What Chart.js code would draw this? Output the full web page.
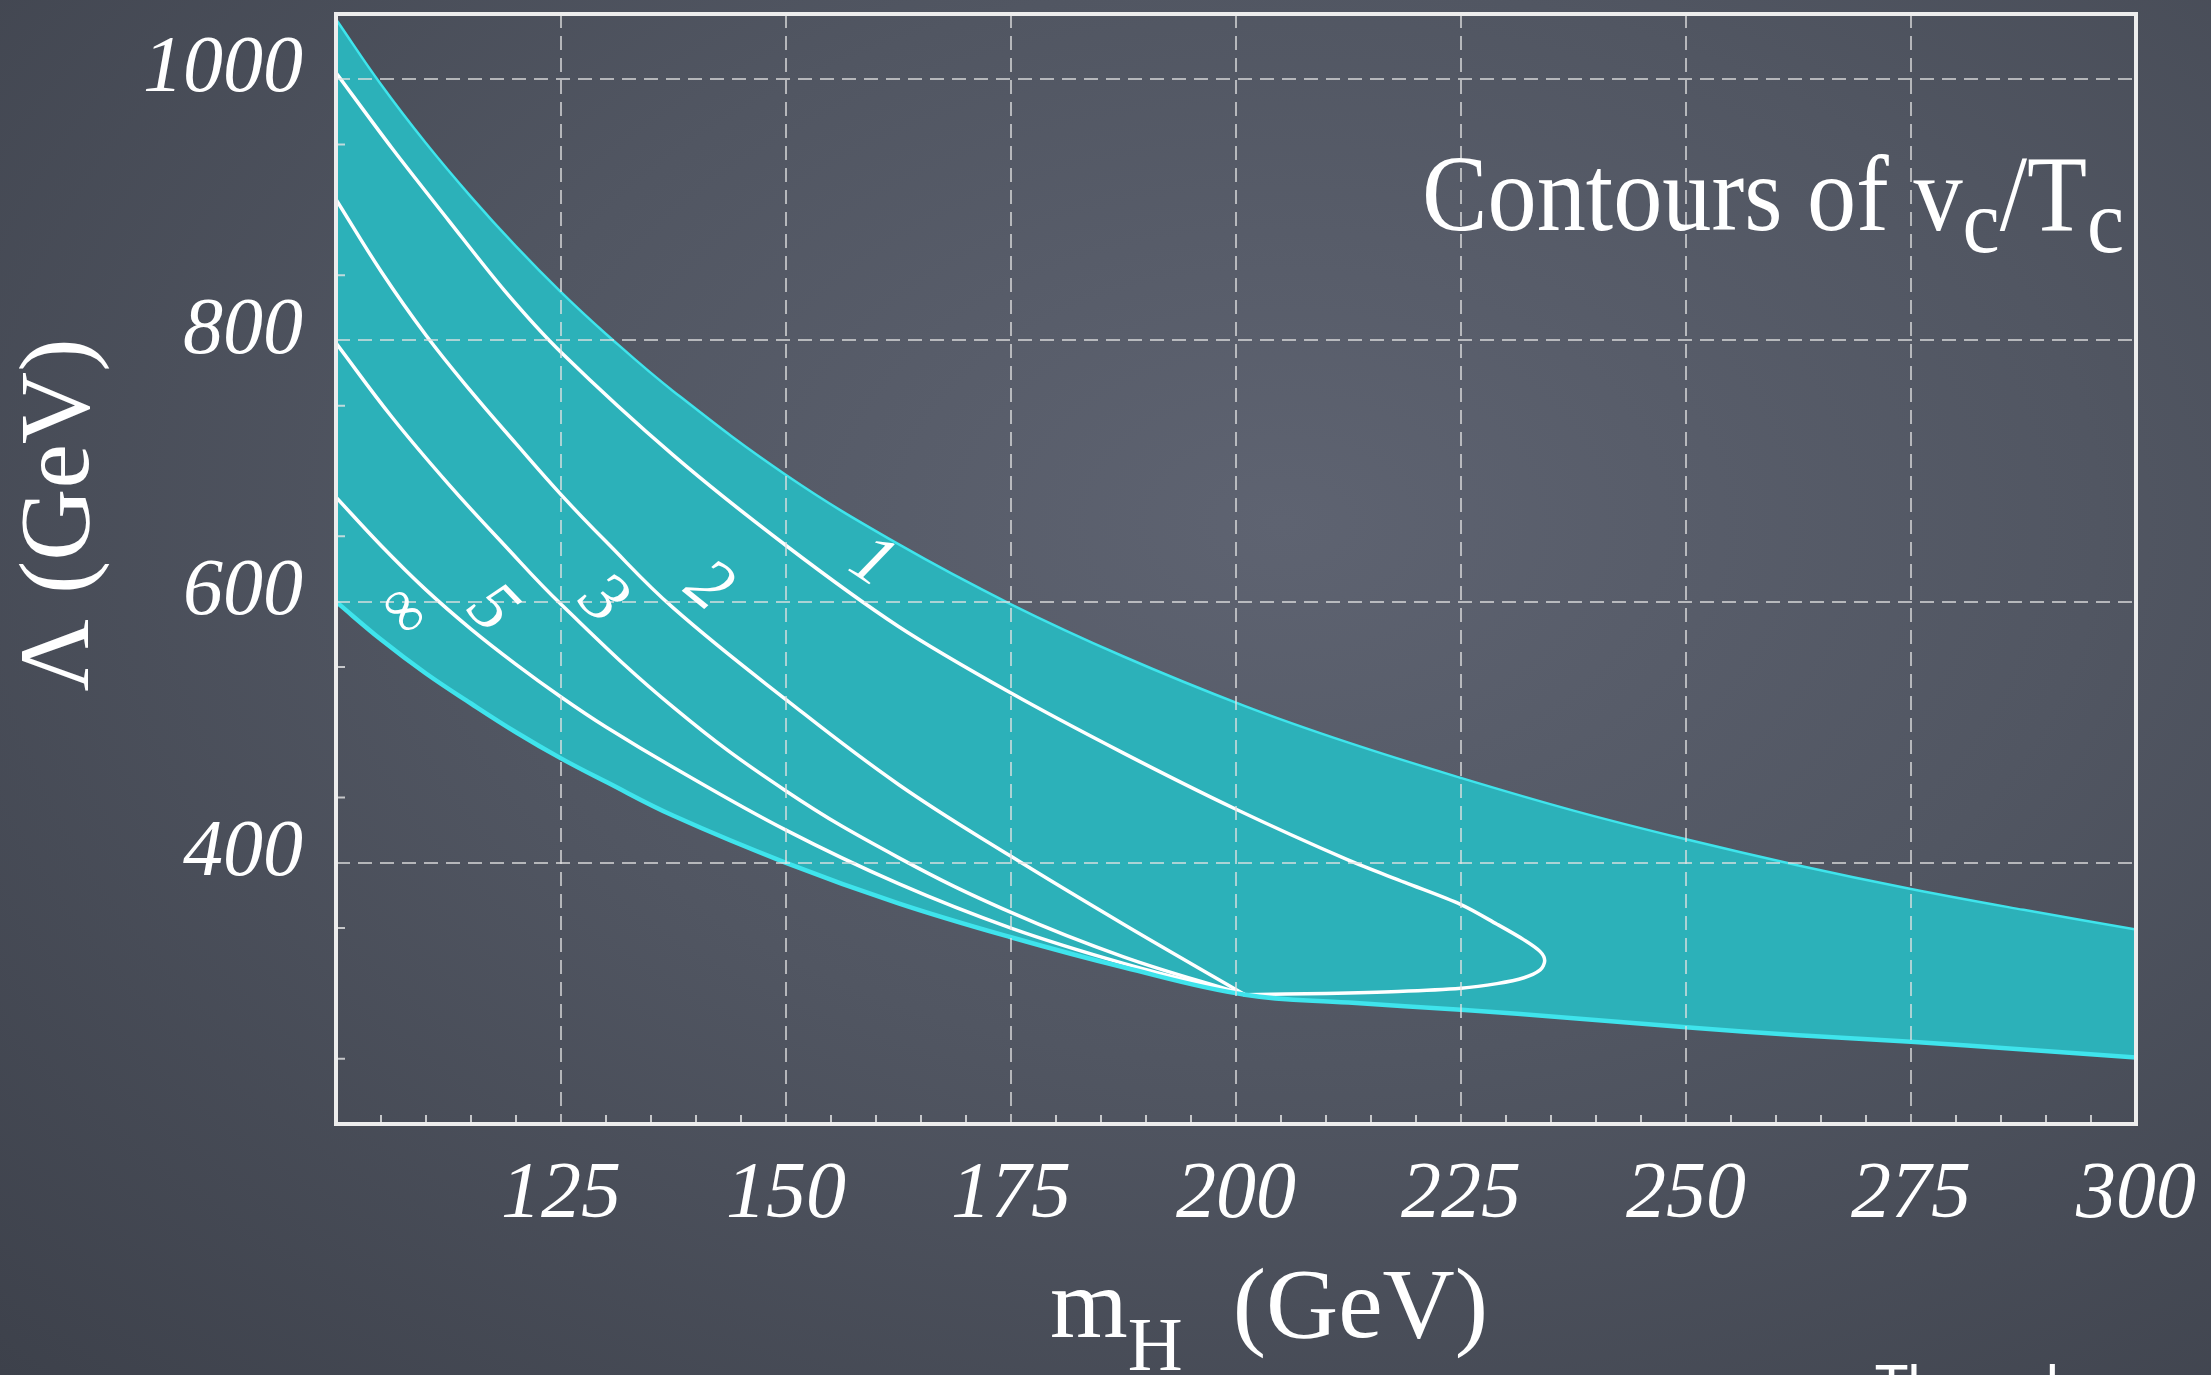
<!DOCTYPE html>
<html>
<head>
<meta charset="utf-8">
<script src="https://cdn.jsdelivr.net/npm/chart.js@4.4.1/dist/chart.umd.min.js"></script>
<style>
  html, body { margin: 0; padding: 0; width: 2211px; height: 1375px; overflow: hidden; }
  body { background: radial-gradient(ellipse at 58% 38%, #5e6371 0%, #515662 45%, #3d414b 100%); }
  canvas { display: block; }
</style>
</head>
<body>
<canvas id="contourChart" width="2211" height="1375"></canvas>
<script>
// band of allowed (m_H, Lambda), both edges on the same m_H grid
var bandX     = [100, 105, 110, 115, 120, 125, 130, 137.5, 150, 162.5, 175, 187.5, 201, 212.5, 225, 237.5, 250, 262.5, 275, 287.5, 300];
var bandUpper = [1046, 996, 951, 910, 872, 837, 805, 761, 697, 644, 598, 558, 520, 492, 465, 440, 418, 398, 380, 364, 349];
var bandLower = [600, 571, 545, 522, 500, 480, 462, 436, 400, 369, 343, 320, 299, 293, 287.5, 281, 274, 268, 263, 257, 251];
var cuspIndex = 12; // the infinity contour follows the lower edge up to here

// contours of v_c/T_c
var c5X = [100, 105, 110, 115, 120, 125, 130, 137.5, 150, 162.5, 175, 187.5, 201];
var c5Y = [680, 643, 609, 579, 552, 527, 504, 473, 425, 384, 350, 323, 299];

var c3X = [100, 106.25, 112.5, 118.75, 125, 137.5, 150, 162.5, 175, 187.5, 201];
var c3Y = [798, 741, 690, 643, 598, 519, 455, 404, 362, 328, 299];

var c2X = [100, 105, 110, 115, 120, 125, 130, 137.5, 150, 162.5, 175, 187.5, 201];
var c2Y = [908, 853, 804, 761, 721, 682, 646, 595, 525, 460, 405, 353, 299];

var c1X = [100, 106.25, 112.5, 118.75, 125, 137.5, 150, 162.5, 175, 187.5, 200, 212.5, 218.75, 225, 229, 232, 233.8, 234.3, 233.8, 232, 229, 225, 218, 210, 201];
var c1Y = [1005, 947, 892, 838, 791, 712, 643, 581, 530, 484, 441, 402, 385, 368, 353, 341, 332, 325, 318, 312, 307.5, 304, 301.5, 300, 299];

// contour labels (placed in data units)
var labelText = ['\u221E', '5', '3', '2', '1'];
var labelX = [107.4, 117.2, 129.6, 141.3, 159.5];
var labelY = [592, 594, 601, 611, 629.5];
var labelAngle = [50, 46, 43, 39, 34];

var xTicks = [125, 150, 175, 200, 225, 250, 275, 300];
var yTicks = [400, 600, 800, 1000];

function pts(xs, ys) {
    return xs.map(function (x, i) { return { x: x, y: ys[i] }; });
}

function curve(data, color, width, tension) {
    return {
        data: data,
        borderColor: color,
        borderWidth: width,
        pointRadius: 0,
        fill: false,
        tension: tension || 0.4
    };
}

// draws text pieces one after the other, used for sub-scripts
function drawRuns(c, x, y, runs, family, squeeze) {
    c.save();
    c.translate(x, y);
    c.scale(squeeze, 1);
    var cx = 0;
    runs.forEach(function (r) {
        c.font = r.size + 'px ' + family;
        c.fillText(r.t, cx, r.dy || 0);
        cx += c.measureText(r.t).width;
    });
    c.restore();
}

var serif = '"Liberation Serif", "DejaVu Serif", serif';

var decorations = {
    id: 'decorations',
    afterDraw: function (chart) {
        var c = chart.ctx, a = chart.chartArea;
        var sx = chart.scales.x, sy = chart.scales.y;
        c.save();

        // minor ticks
        c.strokeStyle = 'rgba(230,230,230,0.8)';
        c.lineWidth = 2;
        c.beginPath();
        for (var mx = 105; mx < 300; mx += 5) {
            if (mx % 25 === 0) continue;
            var px = sx.getPixelForValue(mx);
            c.moveTo(px, a.bottom); c.lineTo(px, a.bottom - 9);
        }
        for (var my = 250; my < 1050; my += 100) {
            var py = sy.getPixelForValue(my);
            c.moveTo(a.left, py); c.lineTo(a.left + 9, py);
        }
        c.stroke();

        // frame
        c.strokeStyle = '#ededed';
        c.lineWidth = 4;
        c.strokeRect(a.left, a.top, a.right - a.left, a.bottom - a.top);

        // contour labels
        c.fillStyle = '#ffffff';
        c.textAlign = 'center';
        c.textBaseline = 'middle';
        labelText.forEach(function (t, i) {
            c.save();
            c.font = (i === 0 ? '64px ' : 'italic 72px ') + serif;
            c.translate(sx.getPixelForValue(labelX[i]), sy.getPixelForValue(labelY[i]));
            c.rotate(labelAngle[i] * Math.PI / 180);
            c.fillText(t, 0, 0);
            c.restore();
        });

        // in-plot caption
        c.textAlign = 'left';
        c.textBaseline = 'alphabetic';
        drawRuns(c, 1422, 230, [
            { t: 'Contours of v', size: 108 },
            { t: 'c', size: 92, dy: 22 },
            { t: '/T', size: 108 },
            { t: 'c', size: 92, dy: 22 }
        ], serif, 0.91);

        // x axis title
        drawRuns(c, 1050, 1337, [
            { t: 'm', size: 100 },
            { t: 'H', size: 76, dy: 33 },
            { t: '  (GeV)', size: 100 }
        ], serif, 1);

        // y axis title
        c.save();
        c.translate(88, 515);
        c.rotate(-Math.PI / 2);
        c.textAlign = 'center';
        c.font = '100px ' + serif;
        c.fillText('\u039B (GeV)', 0, 0);
        c.restore();

        // slide text cut by the bottom edge
        c.font = '56px Lato, "Open Sans", sans-serif';
        c.fillText('The only consistent', 1875, 1405);

        c.restore();
    }
};

var gridStyle = { color: 'rgba(225,225,225,0.7)', lineWidth: 2, drawTicks: false, z: 1 };
var tickFont = { family: serif, style: 'italic', size: 80 };

function noPadding(s) {
    s.paddingTop = 0;
    s.paddingBottom = 0;
    s.paddingLeft = 0;
    s.paddingRight = 0;
}

new Chart(document.getElementById('contourChart'), {
    type: 'line',
    data: {
        datasets: [
            Object.assign(curve(pts(bandX, bandUpper), '#3fe4ec', 2.5), {
                fill: '+1',
                backgroundColor: '#2cb1b9'
            }),
            curve(pts(bandX, bandLower), '#3fe4ec', 4.5),
            curve(pts(bandX.slice(0, cuspIndex + 1), bandLower.slice(0, cuspIndex + 1)), '#ffffff', 2.5),
            curve(pts(c5X, c5Y), '#ffffff', 3.5),
            curve(pts(c3X, c3Y), '#ffffff', 3.5),
            curve(pts(c2X, c2Y), '#ffffff', 3.5),
            curve(pts(c1X, c1Y), '#ffffff', 3.5, 0.3)
        ]
    },
    options: {
        responsive: false,
        devicePixelRatio: 1,
        animation: false,
        layout: { padding: { left: 0, right: 75, top: 14, bottom: 0 } },
        plugins: {
            legend: { display: false },
            tooltip: { enabled: false },
            filler: { drawTime: 'beforeDatasetsDraw' }
        },
        scales: {
            x: {
                type: 'linear',
                min: 100,
                max: 300,
                afterBuildTicks: function (s) { s.ticks = xTicks.map(function (v) { return { value: v }; }); },
                afterFit: function (s) { s.height = 251; noPadding(s); },
                grid: gridStyle,
                border: { display: false, dash: [14, 8] },
                ticks: {
                    color: '#ffffff',
                    font: tickFont,
                    padding: 24,
                    maxRotation: 0,
                    autoSkip: false,
                    callback: function (v) { return String(v); }
                }
            },
            y: {
                type: 'linear',
                min: 200,
                max: 1050,
                afterBuildTicks: function (s) { s.ticks = yTicks.map(function (v) { return { value: v }; }); },
                afterFit: function (s) { s.width = 336; noPadding(s); },
                grid: gridStyle,
                border: { display: false, dash: [14, 8] },
                ticks: {
                    color: '#ffffff',
                    font: tickFont,
                    padding: 33,
                    labelOffset: -9,
                    autoSkip: false,
                    callback: function (v) { return String(v); }
                }
            }
        }
    },
    plugins: [decorations]
});
</script>
</body>
</html>
